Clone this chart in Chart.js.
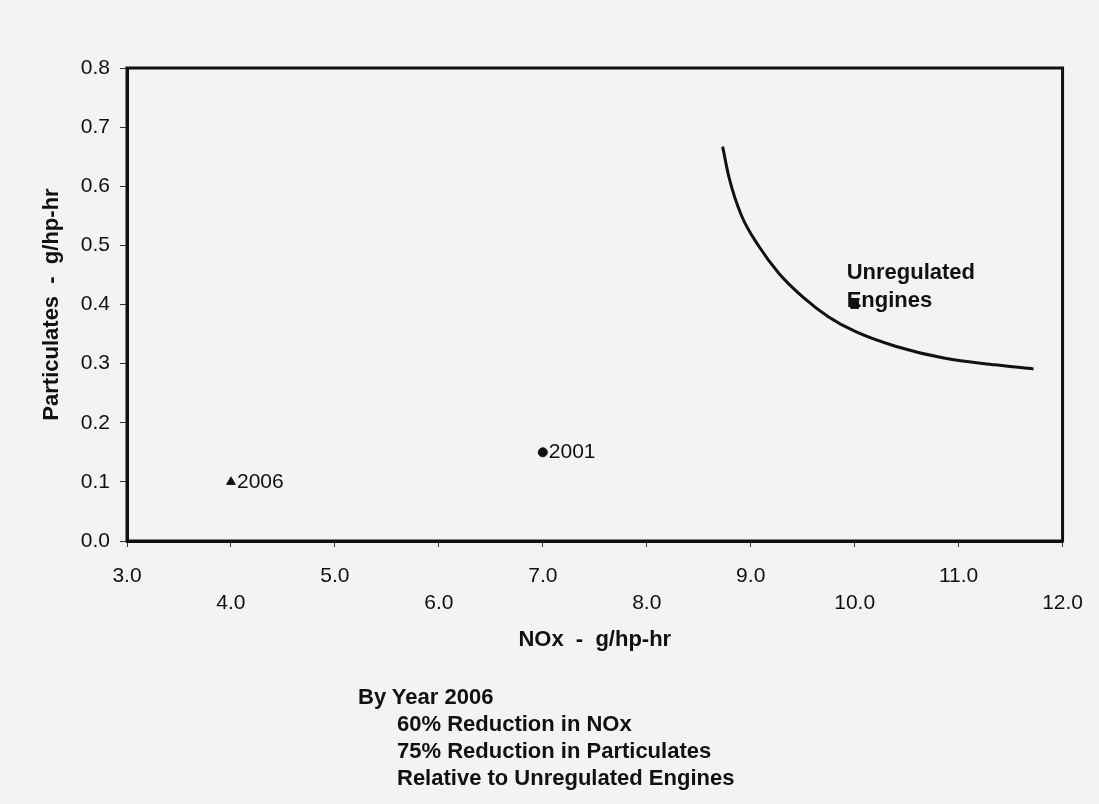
<!DOCTYPE html>
<html><head><meta charset="utf-8">
<script src="https://cdn.jsdelivr.net/npm/chart.js@4.4.1/dist/chart.umd.min.js"></script>
<style>
html,body{margin:0;padding:0;background:#f3f3f3;}
#wrap{position:relative;width:1099px;height:804px;}
canvas{position:absolute;left:0;top:0;}
#note{position:absolute;left:358px;top:683px;font-family:"Liberation Sans",Arial,sans-serif;font-weight:bold;font-size:22px;line-height:27px;color:#111;white-space:nowrap;}
#note div.i{padding-left:39px;}
</style></head>
<body><div id="wrap"><canvas id="c" width="1099" height="804"></canvas>
<div id="note"><div>By Year 2006</div><div class="i">60% Reduction in NOx</div><div class="i">75% Reduction in Particulates</div><div class="i">Relative to Unregulated Engines</div></div></div>
<script>
// Data
const xTickLabels = ['3.0','4.0','5.0','6.0','7.0','8.0','9.0','10.0','11.0','12.0'];
const yTickLabels = ['0.0','0.1','0.2','0.3','0.4','0.5','0.6','0.7','0.8'];
const pointNames = ['2006','2001'];
const pointNOx = [4.0, 7.0];
const pointPM = [0.10, 0.15];
const unregNOx = [10.0];
const unregPM = [0.40];
const unregLabel = ['Unregulated','Engines'];
const curveNOx = [8.73, 8.79, 8.91, 9.08, 9.27, 9.50, 9.75, 10.01, 10.40, 10.87, 11.35, 11.72];
const curvePM  = [0.667, 0.616, 0.551, 0.498, 0.453, 0.413, 0.379, 0.354, 0.329, 0.309, 0.298, 0.291];

const FONT = '"Liberation Sans", Arial, sans-serif';

const frame = {
  id:'frame',
  afterDatasetsDraw(chart){
    const {ctx, chartArea:a} = chart;
    ctx.save();
    ctx.strokeStyle='#111'; ctx.lineWidth=3;
    ctx.strokeRect(a.left, a.top, a.right-a.left, a.bottom-a.top);
    ctx.restore();
  }
};
const labels = {
  id:'labels',
  afterDatasetsDraw(chart){
    const {ctx, scales:{x,y}} = chart;
    ctx.save();
    ctx.fillStyle='#111';
    ctx.textBaseline='middle';
    ctx.font = '21px '+FONT;
    pointNames.forEach((n,i)=>{
      ctx.fillText(n, x.getPixelForValue(pointNOx[i])+6, y.getPixelForValue(pointPM[i]));
    });
    ctx.font = 'bold 22px '+FONT;
    const px = x.getPixelForValue(unregNOx[0]), py = y.getPixelForValue(unregPM[0]);
    ctx.fillText(unregLabel[0], px-8, py-32);
    ctx.fillText(unregLabel[1], px-8, py-4);
    ctx.restore();
  }
};

new Chart(document.getElementById('c'), {
  type:'scatter',
  data:{datasets:[
    {data: curveNOx.map((v,i)=>({x:v,y:curvePM[i]})), showLine:true, borderColor:'#111', borderWidth:3,
     pointRadius:0, cubicInterpolationMode:'monotone', fill:false},
    {data:[{x:pointNOx[0],y:pointPM[0]}], pointStyle:'triangle', pointRadius:5, backgroundColor:'#111', borderColor:'#111'},
    {data:[{x:pointNOx[1],y:pointPM[1]}], pointStyle:'circle', pointRadius:4.5, backgroundColor:'#111', borderColor:'#111'},
    {data:[{x:unregNOx[0],y:unregPM[0]}], pointStyle:'rect', pointRadius:5.5, backgroundColor:'#111', borderColor:'#111'}
  ]},
  options:{
    responsive:false, animation:false,
    layout:{padding:{top:68,right:35,left:0,bottom:0}},
    plugins:{legend:{display:false}, tooltip:{enabled:false}},
    scales:{
      x:{type:'linear', min:3, max:12,
        afterFit(s){ s.height = 804-68-473; },
        afterBuildTicks(s){ s.ticks = xTickLabels.map(t=>({value:parseFloat(t)})); },
        ticks:{ color:'#111', font:{family:FONT,size:21, lineHeight:'27px'}, padding:16, maxRotation:0, autoSkip:false,
          callback(v,i){ const l = xTickLabels[i]; return i%2 ? ['', l] : l; } },
        grid:{drawOnChartArea:false, tickLength:6, color:'#333', tickWidth:1},
        border:{color:'#111', width:3},
        title:{display:true, text:'NOx  -  g/hp-hr', color:'#111', font:{family:FONT,size:22,weight:'bold'}, padding:{bottom:151}}
      },
      y:{type:'linear', min:0, max:0.8,
        afterFit(s){ s.width = 127; },
        afterBuildTicks(s){ s.ticks = yTickLabels.map(t=>({value:parseFloat(t)})); },
        ticks:{ color:'#111', font:{family:FONT,size:21}, padding:10,
          callback(v,i){ return yTickLabels[i]; } },
        grid:{drawOnChartArea:false, tickLength:7, color:'#333', tickWidth:1},
        border:{color:'#111', width:3},
        title:{display:true, text:'Particulates  -  g/hp-hr', color:'#111', font:{family:FONT,size:22,weight:'bold'}, padding:{top:39}}
      }
    }
  },
  plugins:[frame, labels]
});
</script></body></html>
